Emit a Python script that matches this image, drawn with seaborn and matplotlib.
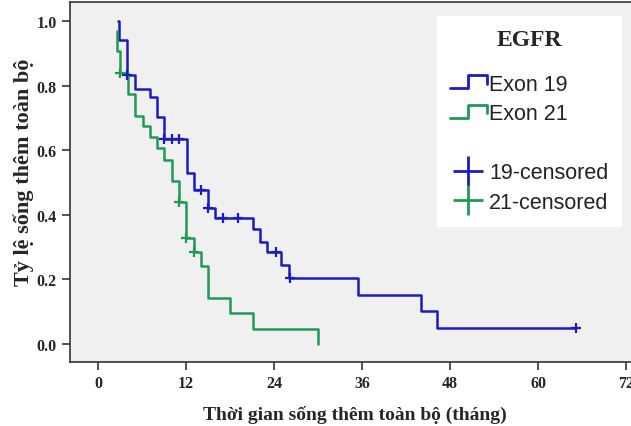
import matplotlib
matplotlib.use('Agg')
import matplotlib.pyplot as plt
import seaborn as sns
import pandas as pd
from matplotlib.lines import Line2D
from matplotlib.legend_handler import HandlerBase

# Kaplan-Meier steps (time in months, survival after the step)
exon19_time = [2.77, 2.9, 4.0, 5.0, 7.1, 8.1, 9.0, 12.1, 13.1, 15.0, 16.0, 21.1,
               22.1, 23.1, 25.0, 26.0, 35.4, 44.0, 46.2, 65.2]
exon19_surv = [1.0, 0.94, 0.833, 0.789, 0.766, 0.702, 0.635, 0.529, 0.477, 0.420,
               0.390, 0.356, 0.317, 0.284, 0.245, 0.204, 0.152, 0.101, 0.050, 0.050]

exon21_time = [2.55, 2.65, 3.0, 4.05, 5.05, 6.1, 7.1, 8.1, 9.0, 10.05, 11.05,
               12.0, 13.1, 14.05, 15.05, 18.0, 21.1, 30.05]
exon21_surv = [0.97, 0.908, 0.839, 0.774, 0.707, 0.674, 0.640, 0.606, 0.571, 0.505,
               0.439, 0.327, 0.284, 0.241, 0.142, 0.095, 0.046, 0.0]

# censored observations
cens19_time = [4.0, 9.0, 10.05, 11.05, 14.05, 15.0, 17.05, 19.1, 24.3, 26.2, 65.2]
cens19_surv = [0.833, 0.635, 0.635, 0.635, 0.477, 0.420, 0.390, 0.390, 0.284, 0.204, 0.050]
cens21_time = [3.0, 11.05, 12.0, 13.1]
cens21_surv = [0.839, 0.439, 0.327, 0.284]

x_ticks = [0, 12, 24, 36, 48, 60, 72]
y_ticks = [0.0, 0.2, 0.4, 0.6, 0.8, 1.0]

blue = '#1b1bc4'
green = '#1f9a55'

sns.set_theme(style='ticks')
plt.rcParams['font.family'] = ['Liberation Serif', 'DejaVu Serif']

fig = plt.figure(figsize=(6.31, 4.27), dpi=100)
ax = fig.add_axes([70 / 631, 1 - 363 / 427, 570 / 631, 360 / 427])
ax.set_facecolor('#f0f0f0')

df19 = pd.DataFrame({'t': exon19_time, 's': exon19_surv})
df21 = pd.DataFrame({'t': exon21_time, 's': exon21_surv})
sns.lineplot(data=df19, x='t', y='s', drawstyle='steps-post', color=blue, lw=1.8, ax=ax)
sns.lineplot(data=df21, x='t', y='s', drawstyle='steps-post', color=green, lw=1.8, ax=ax)
sns.scatterplot(x=cens19_time, y=cens19_surv, marker='+', s=55, linewidth=1.6, color=blue, ax=ax, zorder=3)
sns.scatterplot(x=cens21_time, y=cens21_surv, marker='+', s=55, linewidth=1.6, color=green, ax=ax, zorder=3)

ax.set_xlim(-3.82, 73.9)
ax.set_ylim(-0.0557, 1.0588)
ax.set_xticks(x_ticks)
ax.set_yticks(y_ticks)
ax.set_yticklabels([f'{v:.1f}' for v in y_ticks])
ax.tick_params(direction='out', length=6, width=1.2, color='#333333', labelsize=11.5)
for lab in ax.get_xticklabels() + ax.get_yticklabels():
    lab.set_fontweight('bold')
for sp in ax.spines.values():
    sp.set_color('#333333')
    sp.set_linewidth(1.2)

ax.set_xlabel('Thời gian sống thêm toàn bộ (tháng)', fontsize=14, fontweight='bold', labelpad=10)
ax.set_ylabel('Tỷ lệ sống thêm toàn bộ', fontsize=16, fontweight='bold')
ax.yaxis.set_label_coords(-0.063, 0.53)


# step shaped legend icon like SPSS
class StepHandler(HandlerBase):
    def create_artists(self, legend, orig_handle, xdescent, ydescent, width, height, fontsize, trans):
        x0 = -xdescent
        y0 = -ydescent + 0.1 * height
        y1 = -ydescent + 0.95 * height
        xs = [x0, x0 + 0.5 * width, x0 + 0.5 * width, x0 + width, x0 + width]
        ys = [y0, y0, y1, y1, y0 + 0.3 * height]
        ln = Line2D(xs, ys, color=orig_handle.get_color(), lw=2)
        ln.set_transform(trans)
        return [ln]


h19 = Line2D([], [], color=blue)
h21 = Line2D([], [], color=green)
blank = Line2D([], [], color='none')
c19 = Line2D([], [], color=blue, marker='+', ls='none', markersize=21, mew=2)
c21 = Line2D([], [], color=green, marker='+', ls='none', markersize=21, mew=2)

leg = fig.legend([h19, h21, blank, c19, c21],
                 ['Exon 19', 'Exon 21', ' ', '19-censored', '21-censored'],
                 handler_map={h19: StepHandler(), h21: StepHandler()},
                 loc='upper left', bbox_to_anchor=(437 / 631, 1 - 17 / 427),
                 title='EGFR', frameon=True, fancybox=False, edgecolor='white',
                 framealpha=1, prop={'family': 'Liberation Sans', 'size': 15.5},
                 handlelength=1.72, handletextpad=0.1, labelspacing=0.4,
                 borderpad=0.6, borderaxespad=0)
leg.get_title().set_fontweight('bold')
leg.get_title().set_fontsize(17)
leg.get_title().set_family('Liberation Serif')
leg._legend_box.sep = 17
for t in leg.get_texts():
    t.set_color('#222222')

fig.savefig('out.png', dpi=100)
